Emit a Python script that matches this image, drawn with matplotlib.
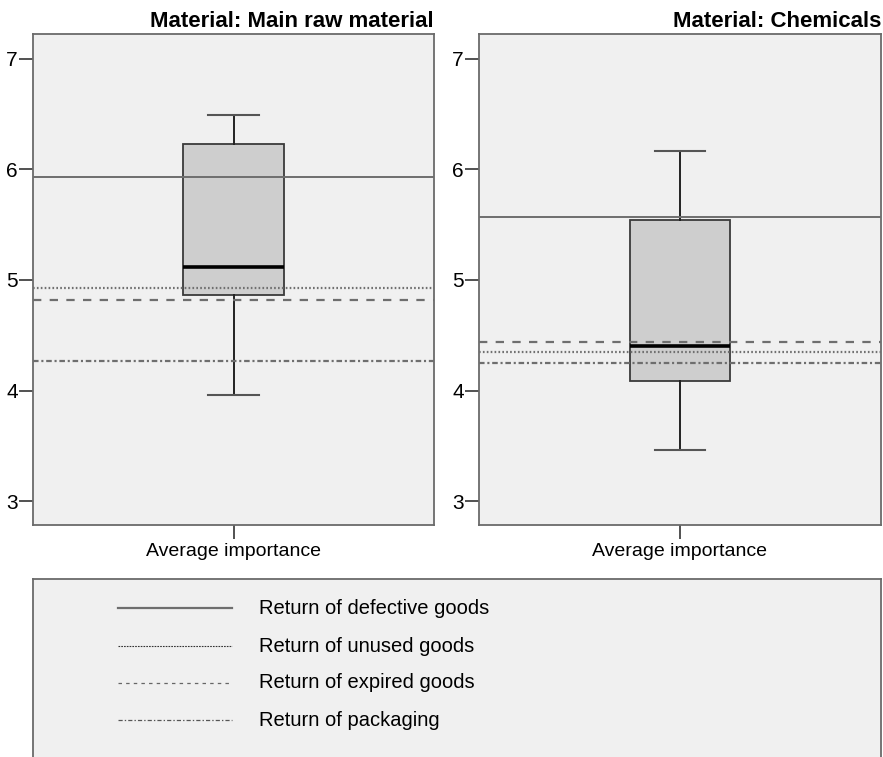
import matplotlib.pyplot as plt
from matplotlib.lines import Line2D

plt.rcParams['font.family'] = ['Liberation Sans', 'DejaVu Sans']
plt.rcParams['lines.scale_dashes'] = False

# data
panels = ['Material: Main raw material', 'Material: Chemicals']
box_label = 'Average importance'
whislo = [3.96, 3.46]
q1 = [4.86, 4.09]
med = [5.115, 4.40]
q3 = [6.23, 5.54]
whishi = [6.49, 6.17]

series = ['Return of defective goods', 'Return of unused goods',
          'Return of expired goods', 'Return of packaging']
main_raw = [5.93, 4.925, 4.82, 4.265]
chemicals = [5.57, 4.35, 4.435, 4.25]
ref_values = [main_raw, chemicals]

yticks = [3, 4, 5, 6, 7]

# styles
bg = '#f0f0f0'
line_styles = [
    dict(color='#6e6e6e', lw=1.4, ls='-'),
    dict(color='#707070', lw=1.6, ls=(0, (1.2, 1.6))),
    dict(color='#6e6e6e', lw=1.6, ls=(0, (6, 6))),
    dict(color='#6e6e6e', lw=1.6, ls=(0, (4, 2, 1.5, 2))),
]
legend_styles = [
    dict(color='#6e6e6e', lw=1.6, ls='-'),
    dict(color='#333333', lw=0.8, ls=(0, (1.2, 0.8))),
    dict(color='#666666', lw=0.9, ls=(0, (2.5, 3))),
    dict(color='#555555', lw=0.9, ls=(0, (3, 1.5, 1, 1.5))),
]

fig = plt.figure(figsize=(8.83, 7.57), dpi=100)
W, H = 883, 757

lefts = [33, 479]
rights = [434, 881]
top, bottom = 34, 525

for i in range(2):
    ax = fig.add_axes([lefts[i] / W, 1 - bottom / H,
                       (rights[i] - lefts[i]) / W, (bottom - top) / H])
    ax.set_facecolor(bg)
    for sp in ax.spines.values():
        sp.set_color('#6a6a6a')
        sp.set_linewidth(1.3)

    for v, st in zip(ref_values[i], line_styles):
        ax.axhline(v, zorder=3, **st)

    stats = [dict(whislo=whislo[i], q1=q1[i], med=med[i], q3=q3[i],
                  whishi=whishi[i], fliers=[], label=box_label)]
    ax.bxp(stats, positions=[1], widths=0.5, capwidths=0.25,
           patch_artist=True, showfliers=False,
           boxprops=dict(facecolor='#cecece', edgecolor='#3a3a3a', lw=1.3),
           medianprops=dict(color='black', lw=2.6),
           whiskerprops=dict(color='#222222', lw=1.4),
           capprops=dict(color='#555555', lw=1.5),
           zorder=2)

    ax.set_xlim(0, 2)
    ax.set_ylim(2.783, 7.226)
    ax.set_yticks(yticks)
    ax.set_xticks([1])
    ax.set_xticklabels([box_label])
    ax.tick_params(axis='both', direction='out', length=10, width=1.2,
                   color='#333333', pad=1)
    ax.tick_params(axis='y', labelsize=15)
    ax.tick_params(axis='x', labelsize=14, pad=3)
    ax.set_title(panels[i], loc='right', fontsize=16, fontweight='bold', pad=5)

# legend panel
lg = fig.add_axes([33 / W, -0.05, (881 - 33) / W, 0.05 + 1 - 579 / H])
lg.set_facecolor(bg)
lg.set_xticks([])
lg.set_yticks([])
for sp in lg.spines.values():
    sp.set_color('#6a6a6a')
    sp.set_linewidth(1.3)

row_y = [608, 646, 683, 720]
for name, st, yp in zip(series, legend_styles, row_y):
    fy = 1 - yp / H
    fig.add_artist(Line2D([118 / W, 232 / W], [fy, fy],
                          transform=fig.transFigure, **st))
    fig.text(259 / W, fy, name, fontsize=14.5, va='center', ha='left')

fig.savefig('out.png', dpi=100)
